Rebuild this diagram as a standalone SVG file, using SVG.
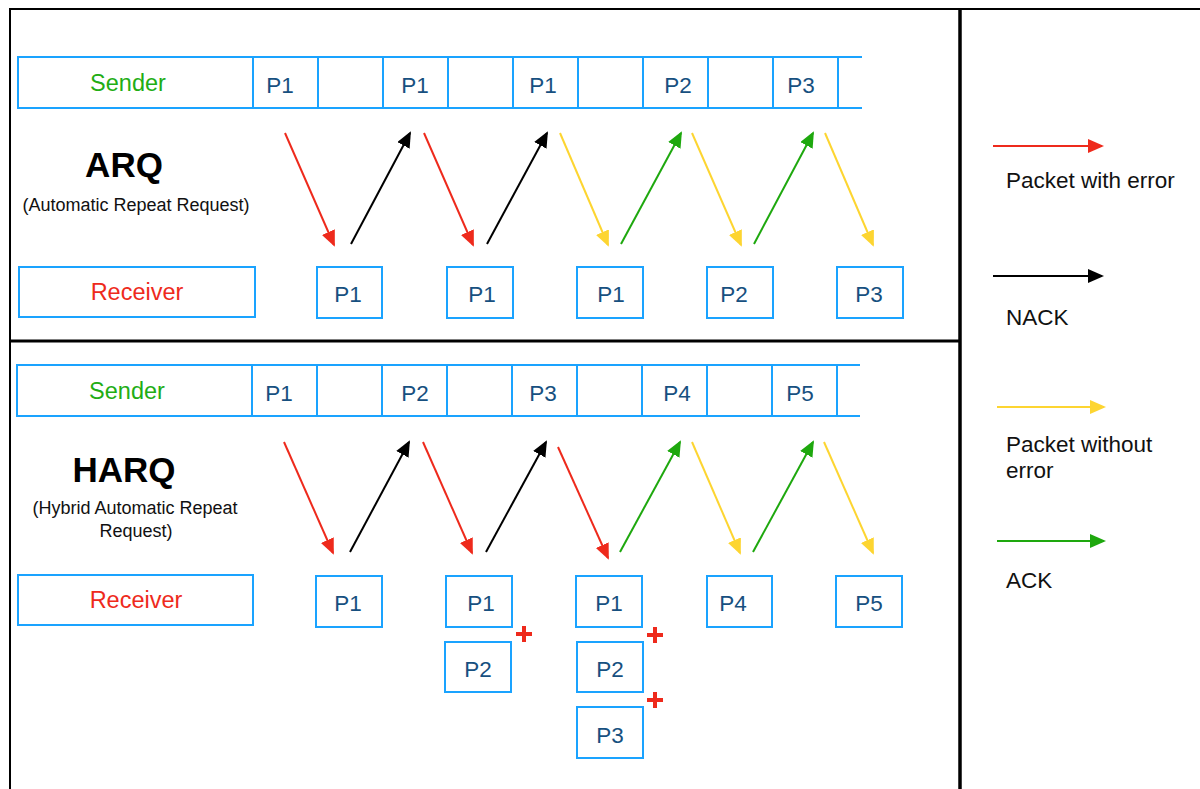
<svg xmlns="http://www.w3.org/2000/svg" width="1200" height="789" viewBox="0 0 1200 789">
<style>
.frame{stroke:#000;fill:none}
.bar{stroke:#1aa3ff;stroke-width:2;fill:none}
.box{stroke:#1aa3ff;stroke-width:2;fill:#fff}
.pl{font-family:"Liberation Sans",Arial,sans-serif;font-size:22.5px;fill:#17507f;text-anchor:middle}
.snd{font-family:"Liberation Sans",Arial,sans-serif;font-size:23.5px;fill:#22ad14;text-anchor:middle}
.rcv{font-family:"Liberation Sans",Arial,sans-serif;font-size:23.5px;fill:#ee2a1c;text-anchor:middle}
.ttl{font-family:"Liberation Sans",Arial,sans-serif;font-size:35px;font-weight:bold;fill:#000;text-anchor:middle}
.sub{font-family:"Liberation Sans",Arial,sans-serif;font-size:18px;fill:#111;text-anchor:middle}
.leg{font-family:"Liberation Sans",Arial,sans-serif;font-size:22.5px;fill:#111}
.r{stroke:#ee2a1c;stroke-width:2;fill:none;marker-end:url(#mr)}
.k{stroke:#000;stroke-width:2;fill:none;marker-end:url(#mk)}
.y{stroke:#fdd531;stroke-width:2;fill:none;marker-end:url(#my)}
.g{stroke:#1ea80e;stroke-width:2;fill:none;marker-end:url(#mg)}
.plus{stroke:#ee2a1c;stroke-width:4;fill:none}
</style>
<defs>
<marker id="mr" markerUnits="userSpaceOnUse" markerWidth="17" markerHeight="15" refX="14" refY="7" orient="auto"><path d="M0,0 L16,7 L0,14 z" fill="#ee2a1c"/></marker>
<marker id="mk" markerUnits="userSpaceOnUse" markerWidth="17" markerHeight="15" refX="14" refY="7" orient="auto"><path d="M0,0 L16,7 L0,14 z" fill="#000"/></marker>
<marker id="my" markerUnits="userSpaceOnUse" markerWidth="17" markerHeight="15" refX="14" refY="7" orient="auto"><path d="M0,0 L16,7 L0,14 z" fill="#fdd531"/></marker>
<marker id="mg" markerUnits="userSpaceOnUse" markerWidth="17" markerHeight="15" refX="14" refY="7" orient="auto"><path d="M0,0 L16,7 L0,14 z" fill="#1ea80e"/></marker>
</defs>
<rect x="0" y="0" width="1200" height="789" fill="#fff"/>

<g id="frame">
<line class="frame" x1="9" y1="9" x2="1200" y2="9" stroke-width="2"/>
<line class="frame" x1="10" y1="9" x2="10" y2="789" stroke-width="2"/>
<line class="frame" x1="960" y1="9" x2="960" y2="789" stroke-width="3.5"/>
<line class="frame" x1="9" y1="341" x2="960" y2="341" stroke-width="3"/>
</g>

<!-- ARQ section -->
<g id="arq-title">
<text class="ttl" x="124" y="177">ARQ</text>
<text class="sub" x="136" y="211">(Automatic Repeat Request)</text>
</g>
<g id="arq-sender">
<rect class="bar" x="18" y="57" width="235" height="51"/>
<path class="bar" d="M253,57 H862 M253,108 H862 M318,57 V108 M383,57 V108 M448,57 V108 M513,57 V108 M578,57 V108 M643,57 V108 M708,57 V108 M773,57 V108 M838,57 V108"/>
<text class="snd" x="128" y="91">Sender</text>
<text class="pl" x="280" y="93">P1</text>
<text class="pl" x="415" y="93">P1</text>
<text class="pl" x="543" y="93">P1</text>
<text class="pl" x="678" y="93">P2</text>
<text class="pl" x="801" y="93">P3</text>
</g>
<g id="arq-receiver">
<rect class="box" x="19" y="267" width="236" height="50"/>
<text class="rcv" x="137" y="300">Receiver</text>
</g>
<g id="arq-r1"><rect class="box" x="317" y="267" width="65" height="51"/><text class="pl" x="348" y="302">P1</text></g>
<g id="arq-r2"><rect class="box" x="447" y="267" width="66" height="51"/><text class="pl" x="482" y="302">P1</text></g>
<g id="arq-r3"><rect class="box" x="577" y="267" width="66" height="51"/><text class="pl" x="611" y="302">P1</text></g>
<g id="arq-r4"><rect class="box" x="707" y="267" width="66" height="51"/><text class="pl" x="734" y="302">P2</text></g>
<g id="arq-r5"><rect class="box" x="837" y="267" width="66" height="51"/><text class="pl" x="869" y="302">P3</text></g>

<g id="arq-connectors">
<line class="r" x1="285" y1="133" x2="334" y2="245"/>
<line class="k" x1="351" y1="244" x2="410" y2="133"/>
<line class="r" x1="424" y1="133" x2="473" y2="245"/>
<line class="k" x1="487" y1="244" x2="547" y2="133"/>
<line class="y" x1="560" y1="133" x2="608" y2="245"/>
<line class="g" x1="621" y1="244" x2="681" y2="133"/>
<line class="y" x1="692" y1="133" x2="741" y2="245"/>
<line class="g" x1="754" y1="244" x2="813" y2="133"/>
<line class="y" x1="825" y1="133" x2="873" y2="245"/>
</g>

<!-- HARQ section -->
<g id="harq-title">
<text class="ttl" x="124" y="482">HARQ</text>
<text class="sub" x="135" y="514">(Hybrid Automatic Repeat</text>
<text class="sub" x="136" y="537">Request)</text>
</g>
<g id="harq-sender">
<rect class="bar" x="17" y="365" width="235" height="51"/>
<path class="bar" d="M252,365 H860 M252,416 H860 M317,365 V416 M382,365 V416 M447,365 V416 M512,365 V416 M577,365 V416 M642,365 V416 M707,365 V416 M772,365 V416 M837,365 V416"/>
<text class="snd" x="127" y="399">Sender</text>
<text class="pl" x="279" y="401">P1</text>
<text class="pl" x="415" y="401">P2</text>
<text class="pl" x="543" y="401">P3</text>
<text class="pl" x="677" y="401">P4</text>
<text class="pl" x="800" y="401">P5</text>
</g>
<g id="harq-receiver">
<rect class="box" x="18" y="575" width="235" height="50"/>
<text class="rcv" x="136" y="608">Receiver</text>
</g>
<g id="harq-r1"><rect class="box" x="316" y="576" width="66" height="51"/><text class="pl" x="348" y="611">P1</text></g>
<g id="harq-r2">
<rect class="box" x="446" y="576" width="66" height="51"/><text class="pl" x="481" y="611">P1</text>
<rect class="box" x="445" y="642" width="66" height="50"/><text class="pl" x="478" y="677">P2</text>
<path class="plus" d="M516,634 H532 M524,626 V642"/>
</g>
<g id="harq-r3">
<rect class="box" x="576" y="576" width="66" height="51"/><text class="pl" x="609" y="611">P1</text>
<rect class="box" x="577" y="642" width="66" height="50"/><text class="pl" x="610" y="677">P2</text>
<rect class="box" x="577" y="707" width="66" height="51"/><text class="pl" x="610" y="743">P3</text>
<path class="plus" d="M647,635 H663 M655,627 V643"/>
<path class="plus" d="M647,700 H663 M655,692 V708"/>
</g>
<g id="harq-r4"><rect class="box" x="707" y="576" width="65" height="51"/><text class="pl" x="733" y="611">P4</text></g>
<g id="harq-r5"><rect class="box" x="836" y="576" width="66" height="51"/><text class="pl" x="869" y="611">P5</text></g>

<g id="harq-connectors">
<line class="r" x1="284" y1="442" x2="333" y2="553"/>
<line class="k" x1="350" y1="552" x2="409" y2="442"/>
<line class="r" x1="423" y1="442" x2="472" y2="553"/>
<line class="k" x1="486" y1="552" x2="546" y2="442"/>
<line class="r" x1="558" y1="447" x2="608" y2="558"/>
<line class="g" x1="620" y1="552" x2="680" y2="442"/>
<line class="y" x1="692" y1="442" x2="740" y2="553"/>
<line class="g" x1="753" y1="552" x2="813" y2="442"/>
<line class="y" x1="824" y1="442" x2="873" y2="553"/>
</g>

<!-- Legend -->
<g id="legend-error"><line class="r" x1="993" y1="146" x2="1102" y2="146"/><text class="leg" x="1006" y="188">Packet with error</text></g>
<g id="legend-nack"><line class="k" x1="993" y1="276" x2="1102" y2="276"/><text class="leg" x="1006" y="325">NACK</text></g>
<g id="legend-ok"><line class="y" x1="997" y1="407" x2="1104" y2="407"/><text class="leg" x="1006" y="452">Packet without</text><text class="leg" x="1006" y="478">error</text></g>
<g id="legend-ack"><line class="g" x1="997" y1="541" x2="1104" y2="541"/><text class="leg" x="1006" y="588">ACK</text></g>
</svg>
